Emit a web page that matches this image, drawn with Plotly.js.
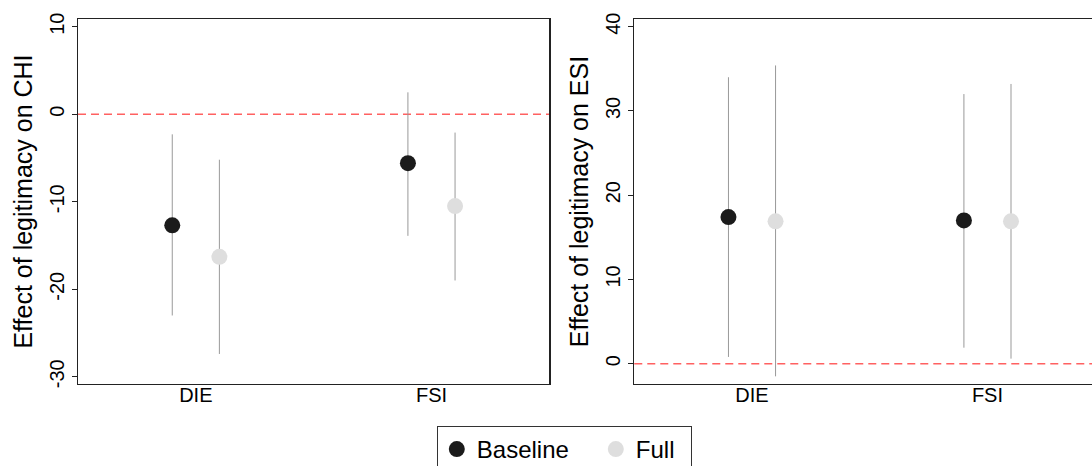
<!DOCTYPE html>
<html>
<head>
<meta charset="utf-8">
<script src="https://cdn.plot.ly/plotly-3.0.1.min.js"></script>
<style>
  html, body { margin: 0; padding: 0; background: #fff; overflow: hidden; }
</style>
</head>
<body>
<div id="chart" style="width:1092px;height:466px;"></div>
<script>
// categories and estimates
const categories = ['DIE', 'FSI'];
const offset = 0.1;

// CHI panel
const chiBaseline = [-12.7, -5.6];
const chiBaselineLo = [-23.0, -13.9];
const chiBaselineHi = [-2.3, 2.5];
const chiFull = [-16.3, -10.5];
const chiFullLo = [-27.4, -19.0];
const chiFullHi = [-5.2, -2.1];

// ESI panel
const esiBaseline = [17.4, 17.0];
const esiBaselineLo = [0.8, 1.9];
const esiBaselineHi = [34.0, 32.0];
const esiFull = [16.9, 16.9];
const esiFullLo = [-1.5, 0.6];
const esiFullHi = [35.4, 33.2];

// y tick labels (plain hyphen, as in the original)
const chiTicks = [-30, -20, -10, 0, 10];
const chiTickText = ['-30', '-20', '-10', '0', '10'];
const esiTicks = [0, 10, 20, 30, 40];
const esiTickText = ['0', '10', '20', '30', '40'];

const pos = categories.map((c, i) => i + 1);

const baseColor = '#1b1b1b';
const fullColor = '#dedede';
const ciColor = '#999999';

function pointTrace(name, shift, est, lo, hi, color, xa, ya, show) {
  return {
    type: 'scatter',
    mode: 'markers',
    name: name,
    legendgroup: name,
    showlegend: show,
    legendwidth: name === 'Baseline' ? 114 : 50,
    x: pos.map(p => p + shift),
    y: est,
    xaxis: xa,
    yaxis: ya,
    marker: { color: color, size: 16 },
    error_y: {
      type: 'data',
      symmetric: false,
      array: hi.map((h, i) => h - est[i]),
      arrayminus: est.map((e, i) => e - lo[i]),
      color: ciColor,
      thickness: 1,
      width: 0
    },
    hoverinfo: 'y'
  };
}

const data = [
  pointTrace('Baseline', -offset, chiBaseline, chiBaselineLo, chiBaselineHi, baseColor, 'x', 'y', true),
  pointTrace('Full', offset, chiFull, chiFullLo, chiFullHi, fullColor, 'x', 'y', true),
  pointTrace('Baseline', -offset, esiBaseline, esiBaselineLo, esiBaselineHi, baseColor, 'x2', 'y2', false),
  pointTrace('Full', offset, esiFull, esiFullLo, esiFullHi, fullColor, 'x2', 'y2', false)
];

const axisFont = { family: 'Liberation Sans, Arial, sans-serif', size: 20, color: '#000' };
const titleFont = { family: 'Liberation Sans, Arial, sans-serif', size: 25, color: '#000' };

const xBase = {
  tickvals: pos,
  ticktext: categories,
  ticks: '',
  ticklabelstandoff: -7,
  showgrid: false,
  zeroline: false,
  showline: true,
  linecolor: '#222',
  linewidth: 1.3,
  tickfont: axisFont
};
const yBase = {
  showgrid: false,
  zeroline: false,
  showline: true,
  linecolor: '#222',
  linewidth: 1.3,
  ticks: 'outside',
  ticklen: 5,
  tickcolor: '#222',
  tickangle: -90,
  tickfont: axisFont,
  tickmode: 'array'
};

const layout = {
  width: 1092,
  height: 466,
  margin: { l: 78, r: 0, t: 19, b: 82 },
  paper_bgcolor: '#fff',
  plot_bgcolor: '#fff',
  font: { family: 'Liberation Sans, Arial, sans-serif', color: '#000' },
  xaxis: Object.assign({}, xBase, { domain: [0, 0.4648], range: [0.5, 2.5], mirror: true, anchor: 'y' }),
  yaxis: Object.assign({}, yBase, {
    range: [-30.83, 10.88], mirror: true, anchor: 'x',
    tickvals: chiTicks, ticktext: chiTickText,
    title: { text: 'Effect of legitimacy on CHI', font: titleFont, standoff: 6 }
  }),
  xaxis2: Object.assign({}, xBase, { domain: [0.5486, 1], range: [0.5, 2.444], mirror: true, anchor: 'y2' }),
  yaxis2: Object.assign({}, yBase, {
    range: [-2.41, 40.91], anchor: 'x2',
    tickvals: esiTicks, ticktext: esiTickText,
    title: { text: 'Effect of legitimacy on ESI', font: titleFont, standoff: 6 }
  }),
  shapes: [
    { type: 'line', xref: 'x domain', yref: 'y', x0: 0, x1: 1, y0: 0, y1: 0,
      line: { color: '#ff6161', width: 1.5, dash: '8px,5px' }, layer: 'below' },
    { type: 'line', xref: 'x2 domain', yref: 'y2', x0: 0, x1: 1, y0: 0, y1: 0,
      line: { color: '#ff6161', width: 1.5, dash: '8px,5px' }, layer: 'below' }
  ],
  showlegend: true,
  legend: {
    orientation: 'h',
    xref: 'container', yref: 'container',
    x: 0.4, xanchor: 'left',
    y: 0.0858, yanchor: 'top',
    bordercolor: '#333',
    borderwidth: 1,
    bgcolor: '#fff',
    font: { family: 'Liberation Sans, Arial, sans-serif', size: 24, color: '#000' }
  }
};

Plotly.newPlot('chart', data, layout, { staticPlot: true });
</script>
</body>
</html>
